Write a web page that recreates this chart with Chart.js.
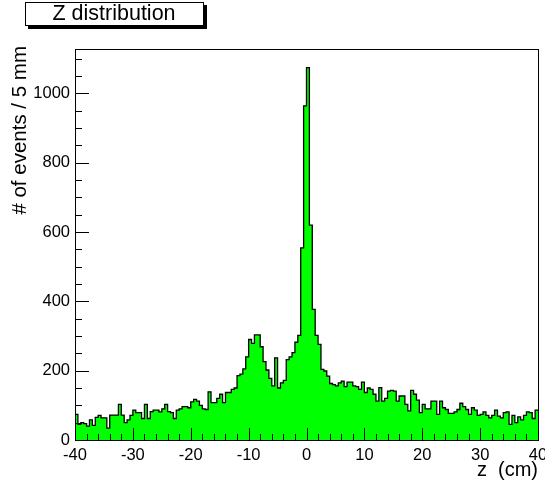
<!DOCTYPE html>
<html>
<head>
<meta charset="utf-8">
<title>Z distribution</title>
<script src="https://cdn.jsdelivr.net/npm/chart.js@4.4.1/dist/chart.umd.min.js"></script>
<style>
  html, body { margin: 0; padding: 0; background: #fff; }
  #wrap { position: relative; width: 545px; height: 484px; }
</style>
</head>
<body>
<div id="wrap"><canvas id="zChart" width="545" height="484"></canvas></div>
<script>
// ===== Binning: 5 mm bins between -40 and 40 cm =====
const zMin = -40;
const zMax = 40;
const binWidth = 0.5;

// entries per bin, starting at z = -40 cm
const counts = [
  // -40 .. -30
  74, 45, 50, 47, 40, 58, 42, 65, 71, 64, 64, 34, 72, 72, 72, 103, 72, 50, 58, 71,
  // -30 .. -20
  86, 79, 79, 62, 103, 62, 82, 86, 86, 81, 90, 103, 82, 79, 62, 86, 90, 96, 96, 93,
  // -20 .. -10
  110, 117, 112, 100, 90, 88, 139, 108, 108, 120, 132, 108, 137, 137, 146, 150, 186, 190, 205, 240,
  // -10 .. 0
  290, 279, 303, 303, 269, 226, 202, 178, 156, 237, 150, 165, 172, 232, 240, 252, 282, 302, 554, 964,
  // 0 .. 10
  1074, 620, 377, 302, 276, 204, 199, 184, 163, 160, 156, 165, 170, 154, 167, 167, 156, 154, 146, 167,
  // 10 .. 20
  137, 150, 146, 132, 112, 151, 112, 120, 141, 143, 141, 112, 127, 127, 103, 84, 143, 132, 115, 79,
  // 20 .. 30
  103, 90, 90, 112, 112, 74, 112, 93, 88, 77, 77, 81, 88, 106, 96, 88, 74, 93, 86, 71,
  // 30 .. 40
  74, 81, 71, 64, 71, 86, 69, 64, 79, 81, 45, 71, 50, 67, 58, 71, 81, 79, 62, 86
];

const xTicks = [-40, -30, -20, -10, 0, 10, 20, 30, 40];
const yTicks = [0, 200, 400, 600, 800, 1000];
const yMax = 1128;

const FONT = '"Liberation Sans", Arial, Helvetica, sans-serif';

// step outline: one point per bin low edge, plus the upper edge of the last bin
const histPoints = counts.map((c, i) => ({ x: zMin + i * binWidth, y: c }));
histPoints.push({ x: zMax, y: counts[counts.length - 1] });

// labels are allowed to hang past the pad edges
function noEdgePadding(s) {
  s.paddingLeft = 0;
  s.paddingRight = 0;
  s.paddingTop = 0;
  s.paddingBottom = 0;
}

// ===== Frame + ticks drawn inside the pad, ROOT style =====
const framePlugin = {
  id: 'frame',
  afterDatasetsDraw(chart) {
    const { ctx, chartArea: a, scales: { x, y } } = chart;
    ctx.save();
    ctx.strokeStyle = '#000';
    ctx.lineWidth = 1;
    ctx.beginPath();
    for (let v = zMin; v <= zMax; v += 2) {
      const px = Math.round(x.getPixelForValue(v)) + 0.5;
      const len = v % 10 === 0 ? 12 : 6;
      ctx.moveTo(px, a.bottom);
      ctx.lineTo(px, a.bottom - len);
    }
    for (let v = 0; v <= yMax; v += 50) {
      const py = Math.round(y.getPixelForValue(v)) + 0.5;
      const len = v % 200 === 0 ? 14 : 7;
      ctx.moveTo(a.left, py);
      ctx.lineTo(a.left + len, py);
    }
    ctx.stroke();
    ctx.strokeRect(a.left + 0.5, a.top + 0.5, a.right - a.left, a.bottom - a.top);
    ctx.restore();
  },
  afterDraw(chart) {
    const { ctx, chartArea: a } = chart;
    ctx.save();
    ctx.fillStyle = '#000';

    // axis titles
    ctx.font = '20px ' + FONT;
    ctx.textBaseline = 'middle';
    ctx.textAlign = 'right';
    ctx.fillText('z  (cm)', a.right, 470);

    ctx.save();
    ctx.translate(20, a.top - 3);
    ctx.rotate(-Math.PI / 2);
    ctx.font = '20.5px ' + FONT;
    ctx.textAlign = 'right';
    ctx.fillText('# of events / 5 mm', 0, 0);
    ctx.restore();

    // title box with shadow
    const bx = 25, by = 2, bw = 178, bh = 23;
    ctx.fillRect(bx + 3, by + 3, bw + 1, bh + 1);
    ctx.fillStyle = '#fff';
    ctx.fillRect(bx, by, bw, bh);
    ctx.strokeStyle = '#000';
    ctx.lineWidth = 1;
    ctx.strokeRect(bx + 0.5, by + 0.5, bw, bh);
    ctx.fillStyle = '#000';
    ctx.font = '21.5px ' + FONT;
    ctx.textAlign = 'center';
    ctx.fillText('Z distribution', bx + bw / 2, by + bh / 2 + 1);
    ctx.restore();
  }
};

const chart = new Chart(document.getElementById('zChart'), {
  type: 'line',
  data: {
    datasets: [{
      label: 'z',
      data: histPoints,
      stepped: true,
      borderColor: '#000',
      borderWidth: 1.3,
      backgroundColor: '#00ff00',
      fill: 'origin',
      pointRadius: 0,
      tension: 0
    }]
  },
  options: {
    responsive: false,
    animation: false,
    layout: { padding: { top: 49, right: 7, left: 0, bottom: 0 } },
    plugins: {
      legend: { display: false },
      tooltip: { enabled: false }
    },
    scales: {
      x: {
        type: 'linear',
        min: zMin,
        max: zMax,
        afterBuildTicks: s => { s.ticks = xTicks.map(v => ({ value: v })); },
        afterFit: s => { s.height = 44; noEdgePadding(s); },
        grid: { display: false, drawTicks: false },
        border: { display: false },
        ticks: {
          color: '#000',
          font: { family: FONT, size: 16.5 },
          padding: 6,
          maxRotation: 0,
          autoSkip: false,
          callback: v => String(v)
        }
      },
      y: {
        min: 0,
        max: yMax,
        afterBuildTicks: s => { s.ticks = yTicks.map(v => ({ value: v })); },
        afterFit: s => { s.width = 75; noEdgePadding(s); },
        grid: { display: false, drawTicks: false },
        border: { display: false },
        ticks: {
          color: '#000',
          font: { family: FONT, size: 16.5 },
          padding: 5,
          callback: v => String(v)
        }
      }
    }
  },
  plugins: [framePlugin]
});
</script>
</body>
</html>
